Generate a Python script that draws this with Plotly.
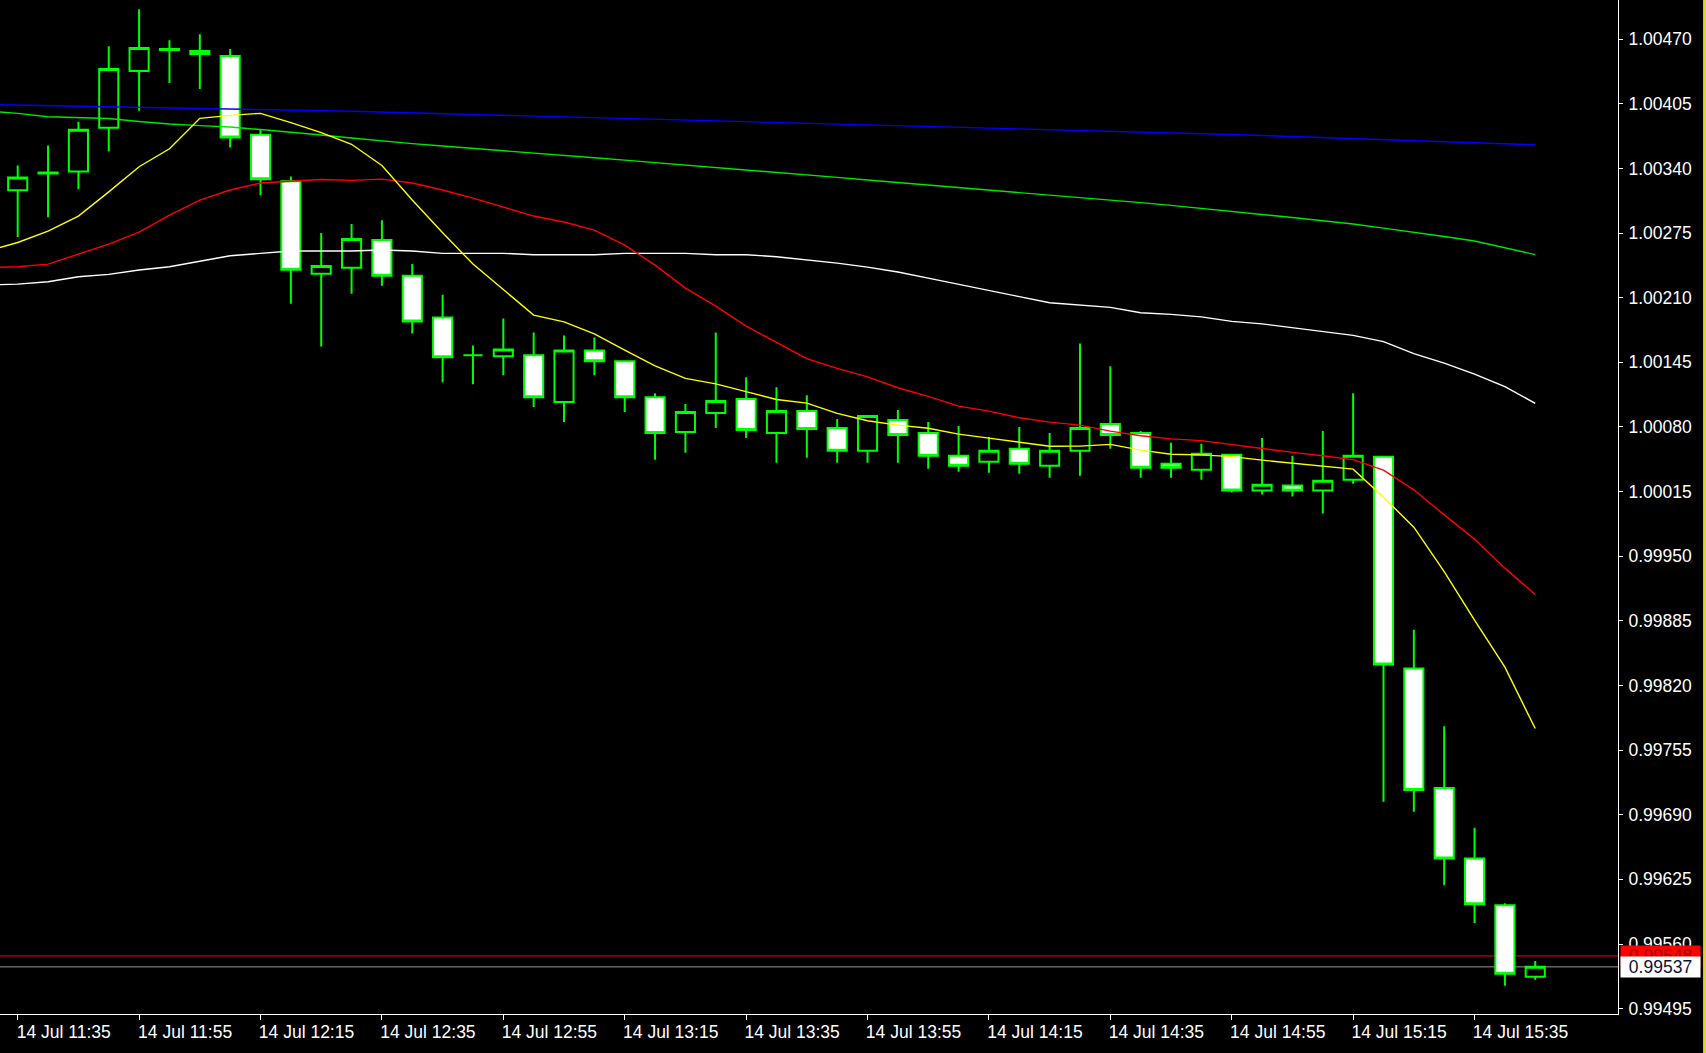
import plotly.graph_objects as go

# ---------------- data ----------------
TIMES = [
    "2022-07-14 11:35", "2022-07-14 11:40", "2022-07-14 11:45", "2022-07-14 11:50", "2022-07-14 11:55",
    "2022-07-14 12:00", "2022-07-14 12:05", "2022-07-14 12:10", "2022-07-14 12:15", "2022-07-14 12:20",
    "2022-07-14 12:25", "2022-07-14 12:30", "2022-07-14 12:35", "2022-07-14 12:40", "2022-07-14 12:45",
    "2022-07-14 12:50", "2022-07-14 12:55", "2022-07-14 13:00", "2022-07-14 13:05", "2022-07-14 13:10",
    "2022-07-14 13:15", "2022-07-14 13:20", "2022-07-14 13:25", "2022-07-14 13:30", "2022-07-14 13:35",
    "2022-07-14 13:40", "2022-07-14 13:45", "2022-07-14 13:50", "2022-07-14 13:55", "2022-07-14 14:00",
    "2022-07-14 14:05", "2022-07-14 14:10", "2022-07-14 14:15", "2022-07-14 14:20", "2022-07-14 14:25",
    "2022-07-14 14:30", "2022-07-14 14:35", "2022-07-14 14:40", "2022-07-14 14:45", "2022-07-14 14:50",
    "2022-07-14 14:55", "2022-07-14 15:00", "2022-07-14 15:05", "2022-07-14 15:10", "2022-07-14 15:15",
    "2022-07-14 15:20", "2022-07-14 15:25", "2022-07-14 15:30", "2022-07-14 15:35", "2022-07-14 15:40",
    "2022-07-14 15:45",
]
# moving averages also have the (off-screen) 11:30 value so the lines reach the left edge
MA_TIMES = ["2022-07-14 11:30"] + TIMES

OPEN = [1.00318, 1.00335, 1.00337, 1.00381, 1.00438, 1.00459, 1.00458, 1.00453, 1.00374, 1.00327,
        1.00234, 1.00240, 1.00268, 1.00232, 1.00190, 1.00152, 1.00151, 1.00152, 1.00105, 1.00157,
        1.00146, 1.00110, 1.00075, 1.00094, 1.00108, 1.00074, 1.00096, 1.00079, 1.00056, 1.00087,
        1.00074, 1.00051, 1.00045, 1.00058, 1.00041, 1.00056, 1.00083, 1.00074, 1.00043, 1.00037,
        1.00052, 1.00016, 1.00021, 1.00016, 1.00027, 1.00050, 0.99837, 0.99717, 0.99646, 0.99599,
        0.99527]
HIGH = [1.00343, 1.00363, 1.00387, 1.00463, 1.00500, 1.00469, 1.00475, 1.00460, 1.00379, 1.00332,
        1.00275, 1.00284, 1.00288, 1.00244, 1.00213, 1.00162, 1.00189, 1.00175, 1.00172, 1.00170,
        1.00147, 1.00114, 1.00103, 1.00175, 1.00130, 1.00120, 1.00112, 1.00088, 1.00092, 1.00097,
        1.00085, 1.00081, 1.00070, 1.00080, 1.00074, 1.00164, 1.00141, 1.00076, 1.00064, 1.00063,
        1.00053, 1.00069, 1.00051, 1.00076, 1.00114, 1.00051, 0.99876, 0.99779, 0.99677, 0.99601,
        0.99543]
LOW = [1.00271, 1.00291, 1.00319, 1.00357, 1.00398, 1.00426, 1.00420, 1.00361, 1.00313, 1.00204,
       1.00161, 1.00214, 1.00222, 1.00174, 1.00125, 1.00123, 1.00132, 1.00100, 1.00085, 1.00132,
       1.00095, 1.00047, 1.00054, 1.00079, 1.00069, 1.00044, 1.00049, 1.00044, 1.00044, 1.00044,
       1.00038, 1.00035, 1.00034, 1.00033, 1.00029, 1.00031, 1.00058, 1.00029, 1.00029, 1.00027,
       1.00014, 1.00012, 1.00010, 0.99993, 1.00023, 0.99703, 0.99693, 0.99619, 0.99581, 0.99518,
       0.99524]
CLOSE = [1.00331, 1.00336, 1.00379, 1.00440, 1.00461, 1.00460, 1.00455, 1.00371, 1.00329, 1.00238,
         1.00242, 1.00269, 1.00232, 1.00186, 1.00150, 1.00152, 1.00158, 1.00110, 1.00157, 1.00146,
         1.00110, 1.00074, 1.00095, 1.00106, 1.00077, 1.00096, 1.00078, 1.00056, 1.00091, 1.00072,
         1.00051, 1.00041, 1.00056, 1.00043, 1.00056, 1.00079, 1.00072, 1.00039, 1.00039, 1.00053,
         1.00016, 1.00022, 1.00016, 1.00026, 1.00051, 0.99841, 0.99715, 0.99646, 0.99600, 0.99530,
         0.99537]

MA_BLUE = [1.004043, 1.004038, 1.004033, 1.004028, 1.004023, 1.004015, 1.004010, 1.004005, 1.004000,
           1.003995, 1.003988, 1.003981, 1.003975, 1.003967, 1.003960, 1.003953, 1.003946, 1.003939,
           1.003931, 1.003924, 1.003916, 1.003907, 1.003899, 1.003891, 1.003883, 1.003875, 1.003867,
           1.003859, 1.003851, 1.003843, 1.003835, 1.003826, 1.003818, 1.003810, 1.003802, 1.003794,
           1.003786, 1.003777, 1.003768, 1.003759, 1.003750, 1.003741, 1.003731, 1.003721, 1.003711,
           1.003701, 1.003691, 1.003681, 1.003671, 1.003660, 1.003649, 1.003638]
MA_GREEN = [1.003977, 1.003954, 1.003920, 1.003914, 1.003902, 1.003872, 1.003847, 1.003831, 1.003816,
            1.003791, 1.003766, 1.003736, 1.003706, 1.003676, 1.003650, 1.003625, 1.003600, 1.003575,
            1.003555, 1.003532, 1.003507, 1.003484, 1.003460, 1.003436, 1.003412, 1.003388, 1.003364,
            1.003337, 1.003310, 1.003283, 1.003258, 1.003233, 1.003209, 1.003185, 1.003160, 1.003136,
            1.003112, 1.003084, 1.003056, 1.003028, 1.002999, 1.002971, 1.002939, 1.002906, 1.002874,
            1.002841, 1.002800, 1.002760, 1.002715, 1.002670, 1.002604, 1.002533]
MA_WHITE = [1.002227, 1.002237, 1.002260, 1.002310, 1.002335, 1.002378, 1.002411, 1.002468, 1.002522,
            1.002546, 1.002569, 1.002569, 1.002569, 1.002579, 1.002569, 1.002546, 1.002546, 1.002546,
            1.002532, 1.002532, 1.002532, 1.002546, 1.002546, 1.002546, 1.002532, 1.002532, 1.002512,
            1.002483, 1.002448, 1.002408, 1.002358, 1.002297, 1.002237, 1.002177, 1.002111, 1.002049,
            1.002026, 1.002003, 1.001948, 1.001932, 1.001907, 1.001862, 1.001837, 1.001799, 1.001759,
            1.001721, 1.001659, 1.001538, 1.001442, 1.001332, 1.001206, 1.001037]
MA_RED = [1.002403, 1.002411, 1.002438, 1.002539, 1.002639, 1.002760, 1.002931, 1.003082, 1.003183,
          1.003253, 1.003268, 1.003288, 1.003280, 1.003293, 1.003253, 1.003183, 1.003102, 1.003012,
          1.002921, 1.002861, 1.002780, 1.002629, 1.002428, 1.002197, 1.002016, 1.001814, 1.001653,
          1.001487, 1.001389, 1.001304, 1.001194, 1.001108, 1.001010, 1.000959, 1.000892, 1.000849,
          1.000818, 1.000758, 1.000711, 1.000680, 1.000663, 1.000622, 1.000587, 1.000544, 1.000511,
          1.000471, 1.000366, 1.000168, 0.999916, 0.999672, 0.999380, 0.999115]
MA_YELLOW = [1.002569, 1.002655, 1.002770, 1.002921, 1.003164, 1.003417, 1.003598, 1.003904, 1.003934,
             1.003954, 1.003861, 1.003761, 1.003643, 1.003429, 1.003082, 1.002753, 1.002438, 1.002182,
             1.001925, 1.001857, 1.001736, 1.001573, 1.001414, 1.001288, 1.001233, 1.001156, 1.001076,
             1.001040, 1.000937, 1.000863, 1.000818, 1.000787, 1.000728, 1.000688, 1.000644, 1.000606,
             1.000607, 1.000625, 1.000567, 1.000526, 1.000519, 1.000502, 1.000466, 1.000434, 1.000409,
             1.000376, 1.000094, 0.999792, 0.999345, 0.998857, 0.998384, 0.997767]

ASK_PRICE = 0.99548
BID_PRICE = 0.99537

Y_TICKS = [1.00470, 1.00405, 1.00340, 1.00275, 1.00210, 1.00145, 1.00080, 1.00015,
           0.99950, 0.99885, 0.99820, 0.99755, 0.99690, 0.99625, 0.99560, 0.99495]
X_TICKS = ["2022-07-14 11:35", "2022-07-14 11:55", "2022-07-14 12:15", "2022-07-14 12:35",
           "2022-07-14 12:55", "2022-07-14 13:15", "2022-07-14 13:35", "2022-07-14 13:55",
           "2022-07-14 14:15", "2022-07-14 14:35", "2022-07-14 14:55", "2022-07-14 15:15",
           "2022-07-14 15:35"]
X_TICK_TEXT = ["14 Jul 11:35", "14 Jul 11:55", "14 Jul 12:15", "14 Jul 12:35", "14 Jul 12:55",
               "14 Jul 13:15", "14 Jul 13:35", "14 Jul 13:55", "14 Jul 14:15", "14 Jul 14:35",
               "14 Jul 14:55", "14 Jul 15:15", "14 Jul 15:35"]

X_RANGE = ["2022-07-14 11:32:05", "2022-07-14 15:58:38"]
Y_RANGE = [0.994896, 1.005094]

# ---------------- figure ----------------
FONT = "Liberation Sans, Arial, sans-serif"
FSIZE = 17.5
fig = go.Figure()

for vals, color in [(MA_WHITE, "#ffffff"), (MA_GREEN, "#00e600"), (MA_BLUE, "#0000ff"),
                    (MA_RED, "#ff0000"), (MA_YELLOW, "#ffff00")]:
    fig.add_trace(go.Scatter(x=MA_TIMES, y=vals, mode="lines",
                             line=dict(color=color, width=1.4),
                             hoverinfo="skip", showlegend=False))

fig.add_trace(go.Candlestick(
    x=TIMES, open=OPEN, high=HIGH, low=LOW, close=CLOSE,
    increasing=dict(fillcolor="#000000", line=dict(color="#00ff00", width=2)),
    decreasing=dict(fillcolor="#ffffff", line=dict(color="#00ff00", width=2)),
    whiskerwidth=0, showlegend=False, hoverinfo="skip"))

# ask / bid lines
fig.add_shape(type="line", xref="paper", yref="y", x0=0, x1=1, y0=ASK_PRICE, y1=ASK_PRICE,
              line=dict(color="#ff0000", width=1), layer="below")
fig.add_shape(type="line", xref="paper", yref="y", x0=0, x1=1, y0=BID_PRICE, y1=BID_PRICE,
              line=dict(color="#9a9a9a", width=1), layer="below")
# window frame edge at far right
fig.add_shape(type="line", xref="paper", yref="paper", x0=1.0535, x1=1.0535, y0=-0.05, y1=1.0,
              line=dict(color="#e0d040", width=3))

fig.add_annotation(xref="paper", yref="y", x=1, y=ASK_PRICE, xanchor="left", yanchor="middle",
                   xshift=2, text=f"{ASK_PRICE:.5f}", showarrow=False, bgcolor="#ff0000",
                   font=dict(family=FONT, size=FSIZE, color="#a00000"),
                   width=75, height=16, borderpad=2, align="center")
fig.add_annotation(xref="paper", yref="y", x=1, y=BID_PRICE, xanchor="left", yanchor="middle",
                   xshift=2, text=f"{BID_PRICE:.5f}", showarrow=False, bgcolor="#ffffff",
                   font=dict(family=FONT, size=FSIZE, color="#101030"),
                   width=75, height=16, borderpad=2, align="center")

fig.update_layout(
    width=1706, height=1053,
    margin=dict(l=0, r=88, t=0, b=39, pad=0),
    paper_bgcolor="#000000", plot_bgcolor="#000000",
    showlegend=False, boxgap=0.37, boxgroupgap=0,
    font=dict(family=FONT, color="#ffffff"),
    xaxis=dict(type="date", range=X_RANGE, rangeslider=dict(visible=False),
               tickmode="array", tickvals=X_TICKS, ticktext=X_TICK_TEXT,
               ticks="outside", ticklen=5, tickwidth=1, tickcolor="#ffffff",
               showline=True, linecolor="#ffffff", linewidth=1,
               showgrid=False, zeroline=False, ticklabelshift=46, ticklabelstandoff=-3,
               tickfont=dict(family=FONT, size=FSIZE, color="#ffffff")),
    yaxis=dict(side="right", range=Y_RANGE, tickmode="array", tickvals=Y_TICKS,
               tickformat=".5f", ticks="outside", ticklen=4, tickwidth=1, tickcolor="#ffffff",
               showline=True, linecolor="#ffffff", linewidth=1,
               showgrid=False, zeroline=False, ticklabelstandoff=2,
               tickfont=dict(family=FONT, size=FSIZE, color="#ffffff")),
)

fig.write_html("out.html", config={"displayModeBar": False},
               post_script="document.body.style.margin='0px';document.body.style.background='#000';")
